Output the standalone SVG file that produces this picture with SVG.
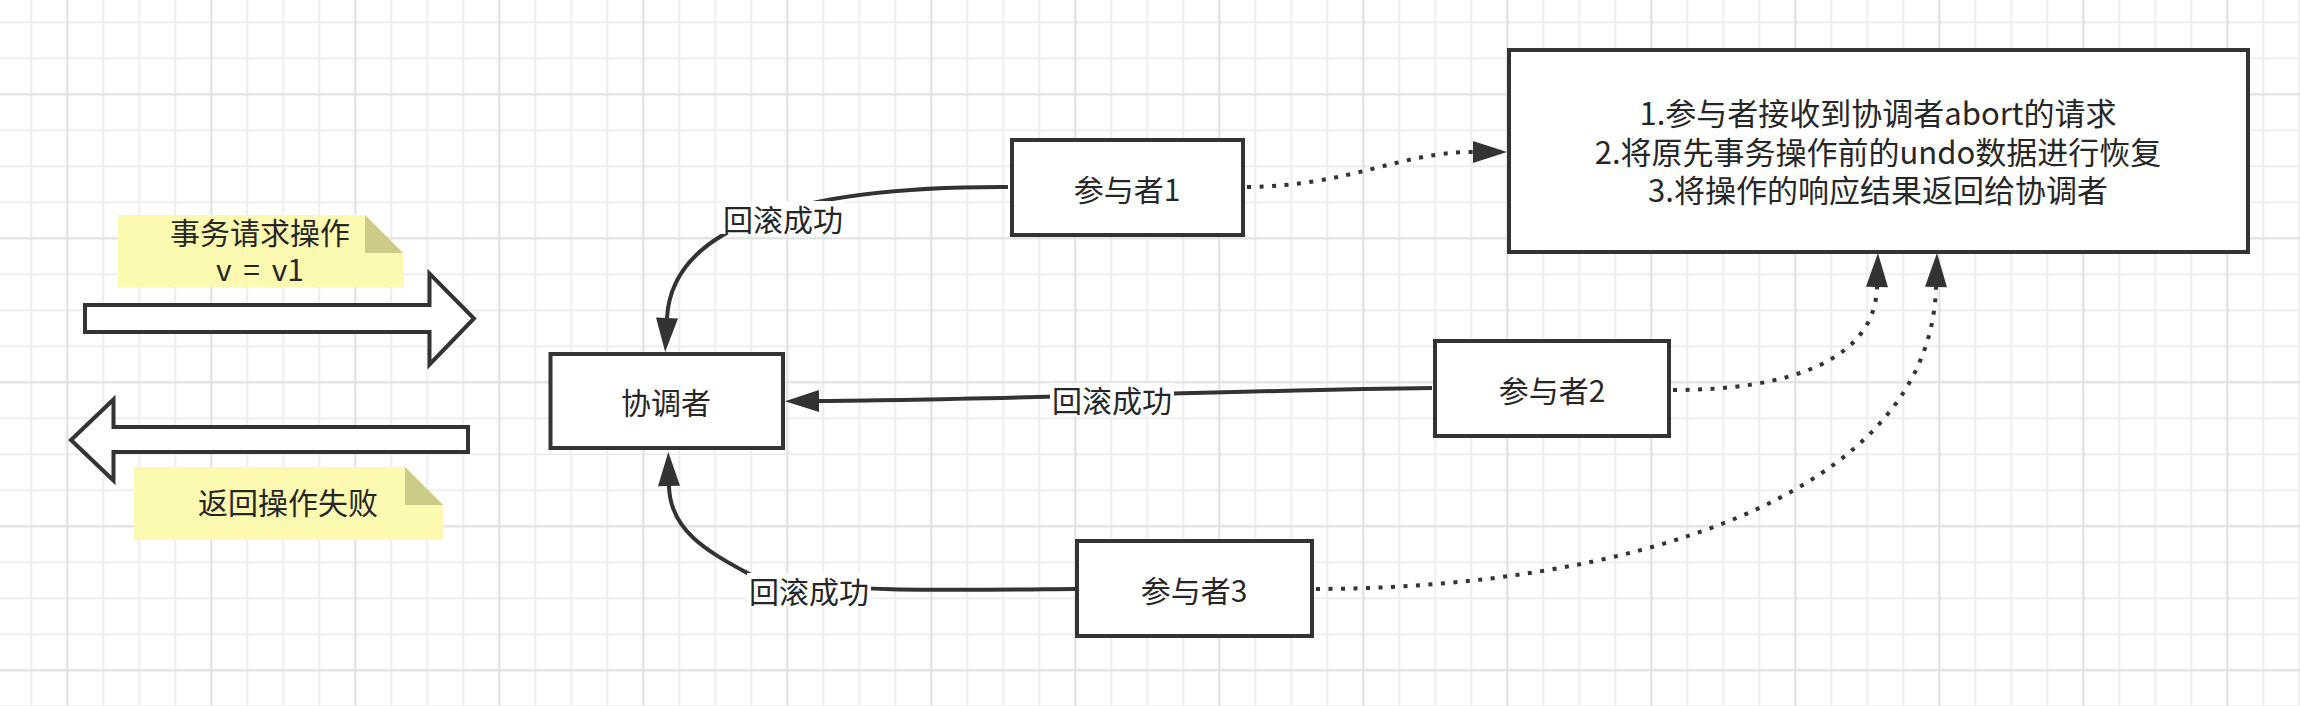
<svg xmlns="http://www.w3.org/2000/svg" width="2300" height="706" viewBox="0 0 2300 706">
<style>
text{font-family:"Noto Sans CJK SC","Noto Sans",sans-serif;font-size:30px;fill:#262626;text-anchor:middle}
.c{dominant-baseline:central}
.box{fill:#ffffff;stroke:#333333;stroke-width:4}
.blk{fill:#ffffff;stroke:#333333;stroke-width:4;stroke-linejoin:miter}
.note{fill:#fcf9b0}
.fold{fill:#cdcb88}
.edge{fill:none;stroke:#333333;stroke-width:4}
.dot{stroke-dasharray:4 8.5}
.lbg{fill:#ffffff}
.gmin{fill:#eeeeee}
.gmaj{fill:#e2e2e2}
</style>
<defs>
<pattern id="grid" patternUnits="userSpaceOnUse" x="-22.7" y="4.3" width="144" height="144">
<rect class="gmin" x="17" y="0" width="2" height="144"/>
<rect class="gmin" x="53" y="0" width="2" height="144"/>
<rect class="gmin" x="125" y="0" width="2" height="144"/>
<rect class="gmin" x="0" y="17" width="144" height="2"/>
<rect class="gmin" x="0" y="53" width="144" height="2"/>
<rect class="gmin" x="0" y="125" width="144" height="2"/>
<rect class="gmaj" x="88.8" y="0" width="2.4" height="144"/>
<rect class="gmaj" x="0" y="88.8" width="144" height="2.4"/>
</pattern>
<marker id="arr" markerUnits="userSpaceOnUse" viewBox="0 0 34 22" markerWidth="34" markerHeight="22" refX="0" refY="11" orient="auto" overflow="visible">
<path d="M0,0 L34,11 L0,22 Z" fill="#333333" stroke="none"/>
</marker>
</defs>
<rect x="0" y="0" width="2300" height="706" fill="#ffffff"/>
<rect x="0" y="0" width="2300" height="706" fill="url(#grid)"/>

<g id="note-request">
<polygon class="note" points="118,215 365,215 403,253 403,287 118,287"/>
<polygon class="fold" points="365,215 365,253 403,253"/>
<text x="260" y="244">事务请求操作<tspan x="260" dy="36.5" style="word-spacing:5px">v = v1</tspan></text>
</g>

<g id="arrow-request">
<polygon class="blk" points="85,305 429.5,305 429.5,273.5 474,318.5 429.5,364.5 429.5,332 85,332"/>
</g>

<g id="arrow-response">
<polygon class="blk" points="468,427 113.5,427 113.5,399.5 71,440 113.5,480.5 113.5,452 468,452"/>
</g>

<g id="note-fail">
<polygon class="note" points="134,467 405,467 443,505 443,540 134,540"/>
<polygon class="fold" points="405,467 405,505 443,505"/>
<text x="288" y="514">返回操作失败</text>
</g>

<g id="connectors">
<path class="edge" d="M1008,187 C800,186 672,225 667,318" marker-end="url(#arr)"/>
<path class="edge" d="M1432,388 C1250,390 1000,400 819,401" marker-end="url(#arr)"/>
<path class="edge" d="M1075,589 C950,590 850,592 760,580 C715,555 670,535 669,486" marker-end="url(#arr)"/>
<path class="edge dot" d="M1247,187 C1350,186 1400,152 1473,152" marker-end="url(#arr)"/>
<path class="edge dot" d="M1673,390 C1790,390 1875,360 1877,287" marker-end="url(#arr)"/>
<path class="edge dot" d="M1316,589 C1620,588 1930,500 1936,287" marker-end="url(#arr)"/>
<g id="label-1">
<rect class="lbg" x="721" y="201" width="124" height="33"/>
<text class="c" x="783" y="217.5">回滚成功</text>
</g>
<g id="label-2">
<rect class="lbg" x="1050" y="383" width="124" height="33"/>
<text class="c" x="1112" y="399">回滚成功</text>
</g>
<g id="label-3">
<rect class="lbg" x="747" y="573" width="124" height="33"/>
<text class="c" x="809" y="589.5">回滚成功</text>
</g>
</g>

<g id="coordinator">
<rect class="box" x="550.5" y="354" width="232.5" height="94"/>
<text class="c" x="666" y="401">协调者</text>
</g>

<g id="participant-1">
<rect class="box" x="1012" y="140" width="231" height="95"/>
<text class="c" x="1127" y="187.5">参与者1</text>
</g>

<g id="participant-2">
<rect class="box" x="1435" y="341" width="234" height="95"/>
<text class="c" x="1552" y="389">参与者2</text>
</g>

<g id="participant-3">
<rect class="box" x="1077" y="541" width="235" height="95"/>
<text class="c" x="1194" y="589">参与者3</text>
</g>

<g id="rollback-steps">
<rect class="box" x="1509" y="50" width="739" height="202"/>
<text x="1878" y="125" style="font-size:31px">1.参与者接收到协调者abort的请求<tspan x="1878" dy="38.5">2.将原先事务操作前的undo数据进行恢复</tspan><tspan x="1878" dy="38.5">3.将操作的响应结果返回给协调者</tspan></text>
</g>
</svg>
